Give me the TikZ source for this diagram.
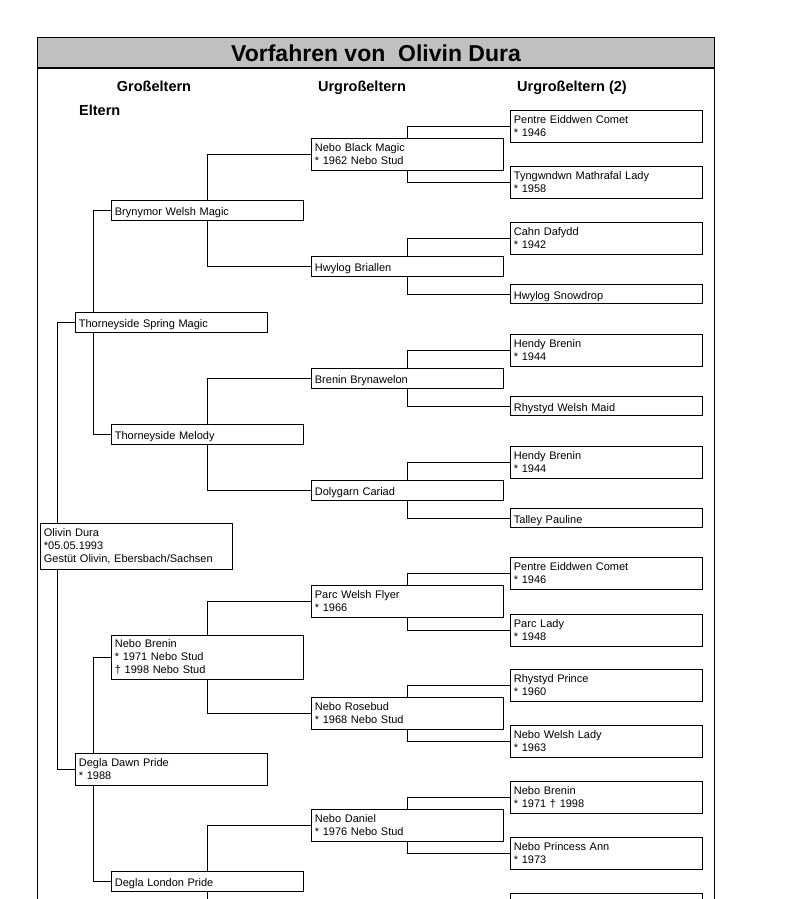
\documentclass[tikz,border=0pt]{standalone}
\usepackage{fontspec}
\setmainfont{Liberation Sans}
\usetikzlibrary{calc}
\definecolor{titlegray}{RGB}{192,192,192}
\newcommand{\nxl}{\\\relax}
\tikzset{
  pbox/.style={draw, line width=0.8pt, anchor=west, minimum width=192pt, minimum height=#1,
    text width=185pt, align=left, inner xsep=3.5pt, inner ysep=0pt,
    font=\fontsize{11}{13}\selectfont},
  pbox/.default=32pt,
  sbox/.style={pbox=#1, text height=11pt, text depth=0pt},
  sbox/.default=20pt,
  conn/.style={line width=0.8pt},
  frameline/.style={line width=0.8pt},
  heading/.style={font=\fontsize{14.5}{16}\selectfont\bfseries, inner sep=0pt, anchor=base},
  titletext/.style={font=\fontsize{23}{26}\selectfont\bfseries, inner sep=0pt, anchor=base}
}
\begin{document}
\begin{tikzpicture}[x=1pt,y=-1pt]
\useasboundingbox (0,0) rectangle (795,899);
\clip (0,0) rectangle (795,899);
% frame and title bar
\fill[titlegray] (37,37) rectangle (714,68);
\draw[frameline] (37,920) -- (37,37) -- (714,37) -- (714,920);
\draw[line width=2pt] (37,68) -- (714,68);
\node[titletext] (title) at (376,62) {Vorfahren von~ Olivin Dura};
\node[heading] (h1) at (154,91) {Großeltern};
\node[heading] (h2) at (362,91) {Urgroßeltern};
\node[heading] (h3) at (572,91) {Urgroßeltern (2)};
\node[heading, anchor=base west] (h0) at (79,115) {Eltern};
% level 0
\node[pbox=46pt] (p0) at (40,546) {Olivin Dura\nxl *05.05.1993\nxl Gestüt Olivin, Ebersbach/Sachsen};
% level 1
\node[sbox] (p1a) at (75,322) {Thorneyside Spring Magic};
\node[pbox] (p1b) at (75,769) {Degla Dawn Pride\nxl * 1988};
% level 2
\node[sbox] (p2a) at (111,210) {Brynymor Welsh Magic};
\node[sbox] (p2b) at (111,434) {Thorneyside Melody};
\node[pbox=44pt] (p2c) at (111,657) {Nebo Brenin\nxl * 1971 Nebo Stud\nxl † 1998 Nebo Stud};
\node[sbox] (p2d) at (111,881) {Degla London Pride};
% level 3
\node[pbox] (p3a) at (311,154) {Nebo Black Magic\nxl * 1962 Nebo Stud};
\node[sbox] (p3b) at (311,266) {Hwylog Briallen};
\node[sbox] (p3c) at (311,378) {Brenin Brynawelon};
\node[sbox] (p3d) at (311,490) {Dolygarn Cariad};
\node[pbox] (p3e) at (311,601) {Parc Welsh Flyer\nxl * 1966};
\node[pbox] (p3f) at (311,713) {Nebo Rosebud\nxl * 1968 Nebo Stud};
\node[pbox] (p3g) at (311,825) {Nebo Daniel\nxl * 1976 Nebo Stud};
\coordinate (p3h) at (311,937);
% level 4
\node[pbox] (p4a) at (510,126) {Pentre Eiddwen Comet\nxl * 1946};
\node[pbox] (p4b) at (510,182) {Tyngwndwn Mathrafal Lady\nxl * 1958};
\node[pbox] (p4c) at (510,238) {Cahn Dafydd\nxl * 1942};
\node[sbox=19pt] (p4d) at (510,294) {Hwylog Snowdrop};
\node[pbox] (p4e) at (510,350) {Hendy Brenin\nxl * 1944};
\node[sbox=19pt] (p4f) at (510,406) {Rhystyd Welsh Maid};
\node[pbox] (p4g) at (510,462) {Hendy Brenin\nxl * 1944};
\node[sbox=19pt] (p4h) at (510,518) {Talley Pauline};
\node[pbox] (p4i) at (510,573) {Pentre Eiddwen Comet\nxl * 1946};
\node[pbox] (p4j) at (510,630) {Parc Lady\nxl * 1948};
\node[pbox] (p4k) at (510,685) {Rhystyd Prince\nxl * 1960};
\node[pbox] (p4l) at (510,741) {Nebo Welsh Lady\nxl * 1963};
\node[pbox] (p4m) at (510,797) {Nebo Brenin\nxl * 1971 † 1998};
\node[pbox] (p4n) at (510,853) {Nebo Princess Ann\nxl * 1973};
\node[pbox] (p4o) at (510,909) {};
% connectors level 0 -> 1
\draw[conn] ($(p0.north west)+(17,0)$) |- (p1a.west);
\draw[conn] ($(p0.south west)+(17,0)$) |- (p1b.west);
% level 1 -> 2
\draw[conn] ($(p1a.north west)+(18,0)$) |- (p2a.west);
\draw[conn] ($(p1a.south west)+(18,0)$) |- (p2b.west);
\draw[conn] ($(p1b.north west)+(18,0)$) |- (p2c.west);
\draw[conn] ($(p1b.south west)+(18,0)$) |- (p2d.west);
% level 2 -> 3
\draw[conn] (p2a.north) |- (p3a.west);
\draw[conn] (p2a.south) |- (p3b.west);
\draw[conn] (p2b.north) |- (p3c.west);
\draw[conn] (p2b.south) |- (p3d.west);
\draw[conn] (p2c.north) |- (p3e.west);
\draw[conn] (p2c.south) |- (p3f.west);
\draw[conn] (p2d.north) |- (p3g.west);
\draw[conn] (p2d.south) |- (p3h);
% level 3 -> 4
\draw[conn] (p3a.north) |- (p4a.west);
\draw[conn] (p3a.south) |- (p4b.west);
\draw[conn] (p3b.north) |- (p4c.west);
\draw[conn] (p3b.south) |- (p4d.west);
\draw[conn] (p3c.north) |- (p4e.west);
\draw[conn] (p3c.south) |- (p4f.west);
\draw[conn] (p3d.north) |- (p4g.west);
\draw[conn] (p3d.south) |- (p4h.west);
\draw[conn] (p3e.north) |- (p4i.west);
\draw[conn] (p3e.south) |- (p4j.west);
\draw[conn] (p3f.north) |- (p4k.west);
\draw[conn] (p3f.south) |- (p4l.west);
\draw[conn] (p3g.north) |- (p4m.west);
\draw[conn] (p3g.south) |- (p4n.west);
\end{tikzpicture}
\end{document}
